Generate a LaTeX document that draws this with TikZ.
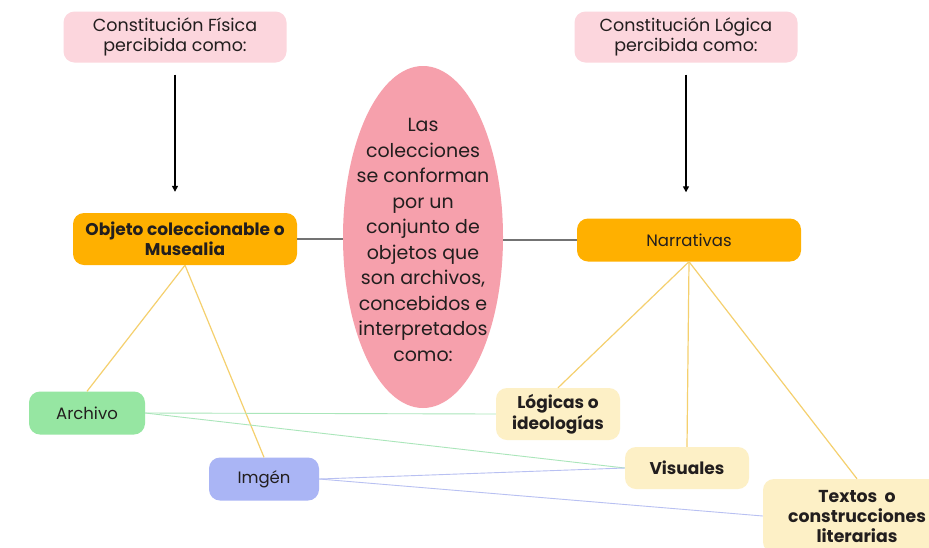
\documentclass[tikz,border=0pt]{standalone}
\usepackage{fontspec}
\setmainfont{Poppins}
\usetikzlibrary{arrows.meta,shapes.geometric}
\definecolor{pinkBox}{RGB}{252,214,221}
\definecolor{pinkOval}{RGB}{246,160,172}
\definecolor{orangeBox}{RGB}{255,176,0}
\definecolor{greenBox}{RGB}{150,230,162}
\definecolor{blueBox}{RGB}{170,181,245}
\definecolor{creamBox}{RGB}{253,240,198}
\definecolor{yellowLine}{RGB}{245,208,110}
\definecolor{greenLine}{RGB}{170,230,186}
\definecolor{blueLine}{RGB}{184,192,242}
\definecolor{darkText}{RGB}{34,30,30}

\begin{document}
\begin{tikzpicture}[x=1pt,y=-1pt,%%
  boxStyle/.style={rounded corners=11pt,inner sep=2pt,align=center,text=darkText,font=\fontsize{17.5}{20}\selectfont},%%
  pinkStyle/.style={boxStyle,fill=pinkBox,minimum width=223pt,minimum height=51pt},%%
  orangeStyle/.style={boxStyle,fill=orangeBox,minimum width=224pt},%%
  leafStyle/.style={boxStyle,minimum height=43pt,font=\fontsize{16.5}{21}\selectfont},%%
  boldLeaf/.style={leafStyle,fill=creamBox,font=\fontsize{17}{21}\selectfont\bfseries},%%
  arrowStyle/.style={-{Triangle[length=6pt,width=6pt]},line width=1.3pt,black},%%
  greyLine/.style={line width=1.2pt,black!55},%%
  yellowStyle/.style={line width=1.2pt,yellowLine},%%
  greenStyle/.style={line width=0.9pt,greenLine},%%
  blueStyle/.style={line width=0.9pt,blueLine}%%
]
%%
\useasboundingbox[fill=white] (0,0) rectangle (929,547);
\clip (0,0) rectangle (929,547);
%%
%% The two perceptions.
\node[pinkStyle] (fisica) at (175,37) {Constitución Física\\percibida como:};
\node[pinkStyle] (logica) at (686,37) {Constitución Lógica\\percibida como:};
%%
%% The central oval.
\node[ellipse,fill=pinkOval,minimum width=160pt,minimum height=342pt,inner sep=0pt] (oval) at (423,237) {};
\node[align=center,text=darkText,font=\fontsize{19}{25.5}\selectfont] (ovalText) at (423,240)
  {Las\\colecciones\\se conforman\\por un\\conjunto de\\objetos que\\son archivos,\\concebidos e\\interpretados\\como:};
%%
%% The two main boxes.
\node[orangeStyle,minimum height=52pt,font=\fontsize{17}{20}\selectfont\bfseries] (objeto) at (185,239)
  {Objeto coleccionable o\\Musealia};
\node[orangeStyle,minimum height=43pt,font=\fontsize{16.5}{20}\selectfont] (narrativas) at (689,240) {Narrativas};
%%
%% The leaves.
\node[leafStyle,fill=greenBox,minimum width=116pt] (archivo) at (87,413) {Archivo};
\node[leafStyle,fill=blueBox,minimum width=110pt] (imagen) at (264,479) {Imgén};
\node[boldLeaf,minimum width=124pt,minimum height=52pt] (logicas) at (558,414) {Lógicas o\\ideologías};
\node[boldLeaf,minimum width=124pt,minimum height=42pt] (visuales) at (687,468) {Visuales};
\node[boldLeaf,minimum width=188pt,minimum height=74pt,font=\fontsize{17.3}{20}\selectfont\bfseries]
  (textos) at (857,516) {Textos\ \ o\\construcciones\\literarias};
%%
%% Arrows from the perceptions.
\draw[arrowStyle,shorten <=12pt,shorten >=21pt] (fisica.south) -- (fisica.south |- objeto.north);
\draw[arrowStyle,shorten <=12pt,shorten >=26pt] (logica.south) -- (logica.south |- narrativas.north);
%%
%% Links to the oval.
\draw[greyLine] (objeto.east) -- (oval.west |- objeto.east);
\draw[greyLine] (oval.east |- narrativas.west) -- (narrativas.west);
%%
%% Yellow branches.
\draw[yellowStyle] (objeto.south) -- (archivo.north);
\draw[yellowStyle] (objeto.south) -- (imagen.north);
\draw[yellowStyle] (narrativas.south) -- (logicas.north);
\draw[yellowStyle] (narrativas.south) -- (visuales.north);
\draw[yellowStyle] (narrativas.south) -- (textos.north);
%%
%% Cross links.
\draw[greenStyle] (archivo.east) -- (logicas.west);
\draw[greenStyle] (archivo.east) -- (visuales.west);
\draw[blueStyle] (imagen.east) -- (visuales.west);
\draw[blueStyle] (imagen.east) -- (textos.west);
\end{tikzpicture}
\end{document}
